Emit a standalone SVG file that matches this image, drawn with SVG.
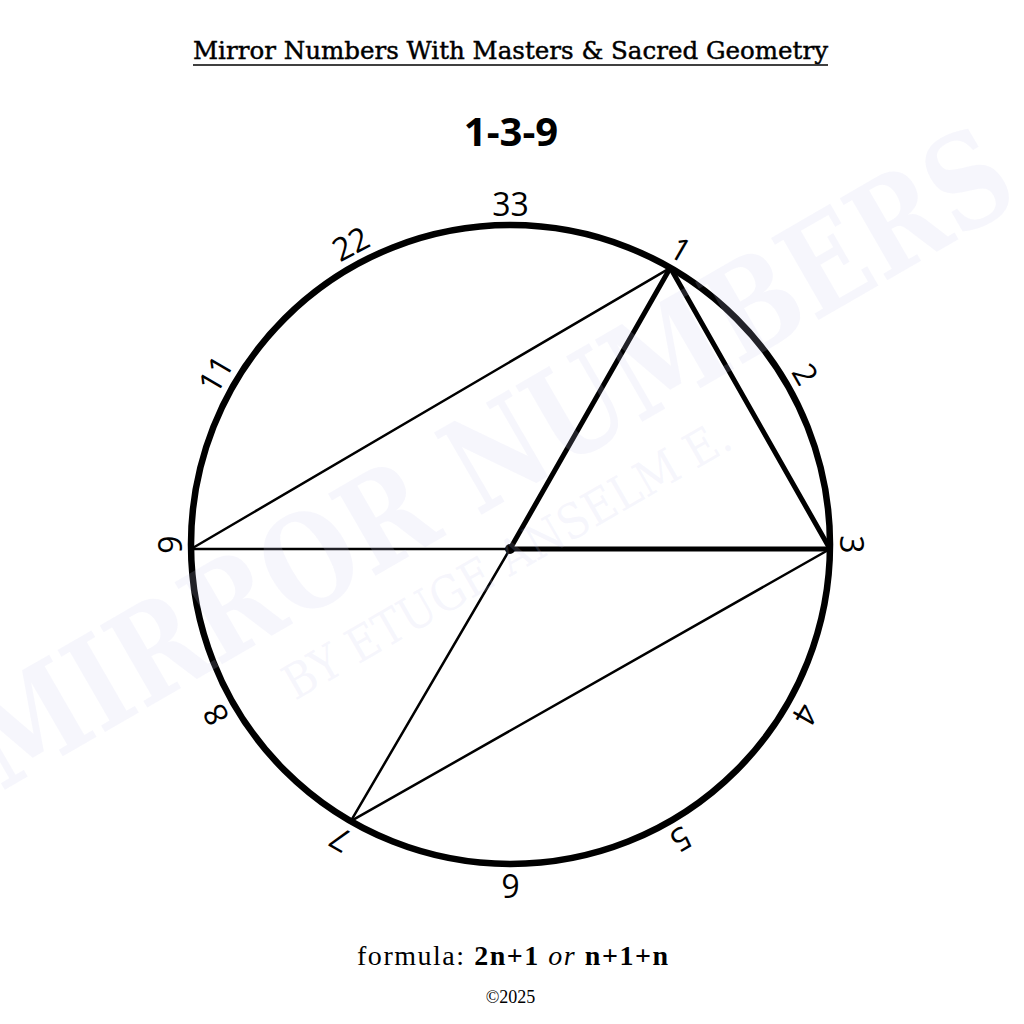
<svg xmlns="http://www.w3.org/2000/svg" width="1024" height="1024" viewBox="0 0 1024 1024">
<style>
.lbl{font-family:"Open Sans","Noto Sans","DejaVu Sans",sans-serif;font-size:32px;fill:#000;text-anchor:middle}
.thin{stroke:#000;stroke-width:2.5;fill:none;stroke-linecap:round}
.thick{stroke:#000;stroke-width:5;fill:none;stroke-linecap:round}
.wm{font-family:"DejaVu Serif","Liberation Serif",serif;fill:#c8c8f0;fill-opacity:0.17;text-anchor:middle}
</style>
<rect width="1024" height="1024" fill="#fff"/>
<g id="title">
<text x="510.5" y="59" font-family="DejaVu Serif, Liberation Serif, serif" font-size="24" stroke="#000" stroke-width="0.45" text-anchor="middle" textLength="635" lengthAdjust="spacingAndGlyphs">Mirror Numbers With Masters &amp; Sacred Geometry</text>
<line x1="193" y1="65" x2="828" y2="65" stroke="#000" stroke-width="1.6"/>
</g>
<g id="heading">
<text x="511" y="146" font-family="Open Sans, Noto Sans, sans-serif" font-weight="700" font-size="40" text-anchor="middle">1-3-9</text>
</g>
<g id="circle">
<circle cx="510.5" cy="544.5" r="319.5" fill="none" stroke="#000" stroke-width="6.5"/>
</g>
<g id="connectors">
<line class="thin" x1="191" y1="549" x2="670.3" y2="267.8"/>
<line class="thin" x1="191" y1="549" x2="510" y2="549"/>
<line class="thin" x1="510" y1="549" x2="350.8" y2="821.2"/>
<line class="thin" x1="350.8" y1="821.2" x2="830" y2="549"/>
<line class="thick" x1="510" y1="549" x2="670.3" y2="267.8"/>
<line class="thick" x1="670.3" y1="267.8" x2="830" y2="549"/>
<line class="thick" x1="510" y1="549" x2="830" y2="549"/>
</g>
<g id="center-dot"><circle cx="510" cy="549" r="5" fill="#000"/></g>
<g id="labels" transform="translate(510.5,544.5)">
<g id="n33"><text class="lbl" x="0" y="-329">33</text></g>
<g id="n22"><text class="lbl" x="0" y="-329" transform="rotate(-28)">22</text></g>
<g id="n11"><text class="lbl" x="0" y="-329" transform="rotate(-60)">11</text></g>
<g id="n9"><text class="lbl" x="0" y="-329" transform="rotate(-90)">9</text></g>
<g id="n8"><text class="lbl" x="0" y="-329" transform="rotate(-120)">8</text></g>
<g id="n7"><text class="lbl" x="0" y="-329" transform="rotate(-150)">7</text></g>
<g id="n6"><text class="lbl" x="0" y="-329" transform="rotate(180)">6</text></g>
<g id="n5"><text class="lbl" x="0" y="-329" transform="rotate(150)">5</text></g>
<g id="n4"><text class="lbl" x="0" y="-329" transform="rotate(120)">4</text></g>
<g id="n3"><text class="lbl" x="0" y="-329" transform="rotate(90)">3</text></g>
<g id="n2"><text class="lbl" x="0" y="-329" transform="rotate(60)">2</text></g>
<g id="n1"><text class="lbl" x="0" y="-329" transform="rotate(30)">1</text></g>
</g>
<g id="formula">
<text x="512.5" y="965" font-family="Liberation Serif, DejaVu Serif, serif" font-size="28" text-anchor="middle" textLength="311" lengthAdjust="spacing">formula: <tspan font-weight="700">2n+1</tspan> <tspan font-style="italic">or</tspan> <tspan font-weight="700">n+1+n</tspan></text>
<text x="510.5" y="1003" font-family="Liberation Serif, DejaVu Serif, serif" font-size="18" text-anchor="middle">©2025</text>
</g>
<g id="watermark">
<text class="wm" font-weight="700" font-size="130" transform="translate(512,497) rotate(-30)" textLength="1180" lengthAdjust="spacingAndGlyphs">MIRROR NUMBERS</text>
<text class="wm" font-size="48" transform="translate(515,574) rotate(-30)" textLength="508" lengthAdjust="spacingAndGlyphs">BY ETUGE ANSELM E.</text>
</g>
</svg>
